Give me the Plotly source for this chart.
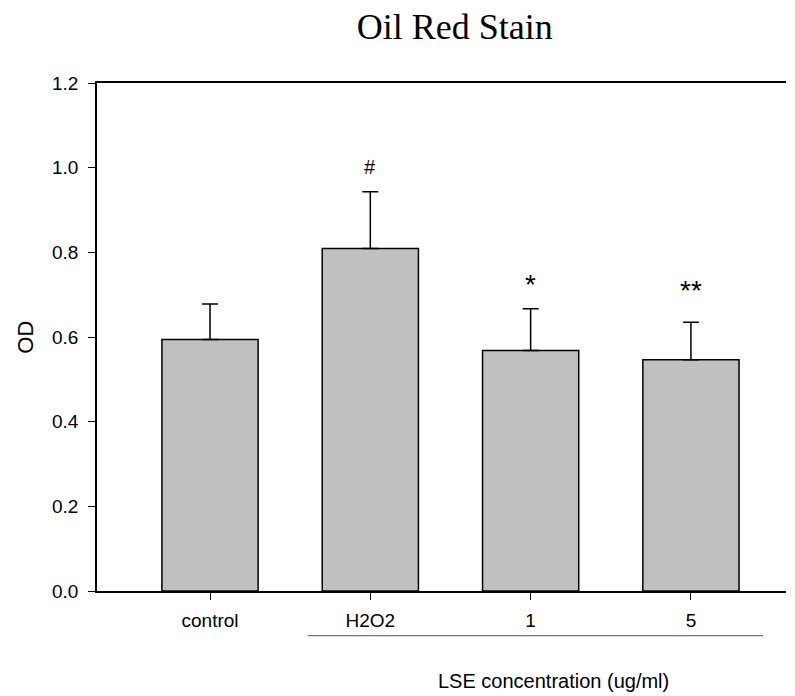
import plotly.graph_objects as go

categories = ["control", "H2O2", "1", "5"]
od_values = [0.594, 0.809, 0.568, 0.546]
od_errors = [0.084, 0.134, 0.099, 0.089]
sig_marks = ["", "#", "*", "**"]
y_ticks = [0.0, 0.2, 0.4, 0.6, 0.8, 1.0, 1.2]

xpos = list(range(len(categories)))
FONT = "Liberation Sans, Arial"

fig = go.Figure()
fig.add_trace(go.Bar(
    x=xpos, y=od_values, width=0.6,
    marker=dict(color="#c0c0c0", line=dict(color="black", width=1.5)),
    error_y=dict(type="data", array=od_errors, arrayminus=[0]*len(od_errors),
                 symmetric=False, color="black", thickness=1.5, width=8),
    showlegend=False,
))

mark_style = {"#": (20, 25), "*": (28, 24), "**": (28, 32)}
for xi, v, e, s in zip(xpos, od_values, od_errors, sig_marks):
    if s:
        size, shift = mark_style[s]
        fig.add_annotation(x=xi, y=v + e, yref="y", xref="x", text=s,
                           showarrow=False, yanchor="middle", yshift=shift,
                           font=dict(family=FONT, size=size, color="black"))

fig.add_shape(type="line", xref="x", yref="paper", x0=0.611, x1=3.45, y0=-0.088, y1=-0.088,
              line=dict(color="#555555", width=1))

fig.add_annotation(text="LSE concentration (ug/ml)", xref="paper", yref="paper",
                   x=0.662, y=-0.178, showarrow=False, xanchor="center", yanchor="middle",
                   font=dict(family=FONT, size=20, color="black"))

fig.add_annotation(text="OD", xref="paper", yref="paper", textangle=-90,
                   x=-0.105, y=0.5, showarrow=False, xanchor="center", yanchor="middle",
                   font=dict(family=FONT, size=22, color="black"))

fig.update_layout(
    width=795, height=696,
    margin=dict(l=97, r=9, t=83, b=105),
    paper_bgcolor="white", plot_bgcolor="white",
    title=dict(text="Oil Red Stain", x=0.572, xanchor="center", y=0.962, yanchor="middle",
               font=dict(family="Liberation Serif, Times New Roman", size=36, color="black")),
    font=dict(family=FONT, size=19, color="black"),
    xaxis=dict(range=[-0.705, 3.593], tickvals=xpos, ticktext=categories,
               showline=True, linecolor="black", linewidth=1.5, mirror=True,
               ticks="outside", ticklen=7, tickwidth=1, tickcolor="black",
               showgrid=False, zeroline=False, tickfont=dict(family=FONT, size=19),
               ticklabelstandoff=4),
    yaxis=dict(range=[0, 1.2], tickvals=y_ticks, tickformat=".1f",
               showline=True, linecolor="black", linewidth=1.5,
               ticks="outside", ticklen=7, tickwidth=1, tickcolor="black",
               showgrid=False, zeroline=False, tickfont=dict(family=FONT, size=19),
               ticklabelstandoff=6),
)

fig.write_html("out.html")
